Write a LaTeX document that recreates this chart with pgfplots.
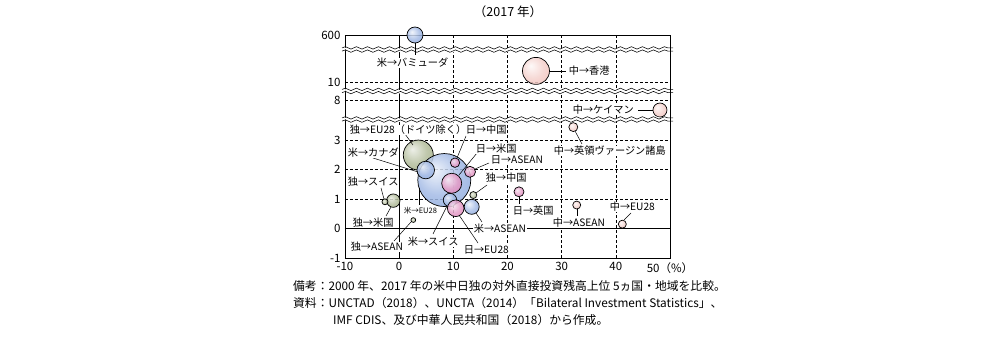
\documentclass[border=0pt]{standalone}
\usepackage{fontspec}
\setmainfont{Noto Sans CJK JP}
\usepackage{pgfplots}
\usepackage{pgfplotstable}
\pgfplotsset{compat=1.18}
\usetikzlibrary{decorations.pathmorphing}

\definecolor{cB}{RGB}{115,150,215}
\definecolor{cJ}{RGB}{215,105,170}
\definecolor{cC}{RGB}{236,172,164}
\definecolor{cG}{RGB}{140,155,105}

\pgfdeclareradialshading{shB}{\pgfpoint{-10bp}{10bp}}{color(0bp)=(cB!12!white); color(20bp)=(cB!65!white); color(50bp)=(cB)}
\pgfdeclareradialshading{shJ}{\pgfpoint{-10bp}{10bp}}{color(0bp)=(cJ!15!white); color(20bp)=(cJ!65!white); color(50bp)=(cJ)}
\pgfdeclareradialshading{shC}{\pgfpoint{-10bp}{10bp}}{color(0bp)=(cC!8!white); color(20bp)=(cC!55!white); color(50bp)=(cC)}
\pgfdeclareradialshading{shG}{\pgfpoint{-10bp}{10bp}}{color(0bp)=(cG!18!white); color(20bp)=(cG!65!white); color(50bp)=(cG)}

\pgfdeclareplotmark{bubB}{\pgfpathcircle{\pgfpointorigin}{\pgfplotmarksize}\pgfshadepath{shB}{0}\pgfusepath{stroke}}
\pgfdeclareplotmark{bubJ}{\pgfpathcircle{\pgfpointorigin}{\pgfplotmarksize}\pgfshadepath{shJ}{0}\pgfusepath{stroke}}
\pgfdeclareplotmark{bubC}{\pgfpathcircle{\pgfpointorigin}{\pgfplotmarksize}\pgfshadepath{shC}{0}\pgfusepath{stroke}}
\pgfdeclareplotmark{bubG}{\pgfpathcircle{\pgfpointorigin}{\pgfplotmarksize}\pgfshadepath{shG}{0}\pgfusepath{stroke}}

% y: mapped position on the broken axis (600 -> 6.58, 10 -> 4.98, 8 -> 4.37); r: bubble radius (pt)
\pgfplotstableread{
x y r
3.53 2.50 15
-1.08 0.95 6.7
13.69 1.14 3.5
-2.62 0.91 3
2.61 0.29 2.4
}\tabG
\pgfplotstableread{
x y r
8.33 1.65 26.5
4.90 1.99 8.8
2.92 6.58 8
13.39 0.74 7.5
9.38 0.97 6.7
}\tabB
\pgfplotstableread{
x y r
9.70 1.54 10
10.44 0.69 8.3
13.08 1.93 5.5
22.12 1.25 5
10.31 2.24 4.7
}\tabJ
\pgfplotstableread{
x y r
25.26 5.36 13.5
48.15 4.03 7
32.15 3.45 4.5
32.78 0.80 4
41.20 0.15 4
}\tabC

\pgfplotsset{bub/.style={only marks, scatter, mark=#1,
  scatter/use mapped color={draw=black},
  visualization depends on={\thisrow{r}\as\rr},
  scatter/@pre marker code/.append style={/tikz/mark size=\rr},
  mark options={line width=0.7pt, fill opacity=0.85}}}

\newcommand{\lbl}[3]{\node[anchor=west, inner sep=0.6pt, fill=white, font=\fontsize{10.2}{12}\selectfont] at (#1pt-345pt, 258pt-#2pt) {#3};}
\newcommand{\ld}[4]{\draw[line width=0.5pt] (#1pt-345pt, 258pt-#2pt) -- (#3pt-345pt, 258pt-#4pt);}
\newcommand{\brk}[1]{%
  \draw[white, line width=3.2pt, decorate, decoration={snake, amplitude=1.2pt, segment length=11pt}] (0.5pt, 258pt-#1pt) -- (324.5pt, 258pt-#1pt);
  \draw[line width=0.55pt, decorate, decoration={snake, amplitude=1.2pt, segment length=11pt}] (-3pt, 259.6pt-#1pt) -- (328pt, 259.6pt-#1pt);
  \draw[line width=0.55pt, decorate, decoration={snake, amplitude=1.2pt, segment length=11pt}] (-3pt, 256.4pt-#1pt) -- (328pt, 256.4pt-#1pt);}

\begin{document}
\begin{tikzpicture}
\useasboundingbox (-345pt,-82pt) rectangle (651pt,258pt);
\begin{axis}[
  at={(0pt,0pt)}, anchor=south west,
  scale only axis, width=325pt, height=223pt,
  xmin=-10, xmax=50, ymin=-1, ymax=6.58,
  xtick={-10,0,10,20,30,40,50},
  xticklabels={-10,0,10,20,30,40,50（\%）},
  ytick={-1,0,1,2,3,4.37,4.98,6.58},
  yticklabels={-1,0,1,2,3,8,10,600},
  major tick length=0pt,
  grid=major,
  major grid style={black, dashed, line width=0.55pt, dash pattern=on 3pt off 2pt},
  axis line style={black, line width=0.6pt},
  tick label style={font=\fontsize{11.5}{12}\selectfont},
  xticklabel style={yshift=-1pt},
  yticklabel style={xshift=-1pt},
  /pgf/number format/assume math mode=true,
  clip=false,
]
\draw[line width=0.6pt] (axis cs:0,-1) -- (axis cs:0,6.58);
\draw[line width=0.6pt] (axis cs:-10,0) -- (axis cs:50,0);
\addplot[bub=bubG] table {\tabG};
\addplot[bub=bubB] table {\tabB};
\addplot[bub=bubJ] table {\tabJ};
\addplot[bub=bubC] table {\tabC};
\end{axis}
% axis breaks
\brk{49.5}
\brk{91}
\brk{119.5}
% title
\node[font=\fontsize{12.5}{14}\selectfont] at (508pt-345pt, 258pt-12pt) {（2017 年）};
% labels and leader lines
\ld{415}{43}{415}{55}
\lbl{376}{63}{米→バミューダ}
\ld{549.5}{71}{566}{71}
\lbl{568}{71}{中→香港}
\ld{638}{110}{653}{110}
\lbl{572}{110}{中→ケイマン}
\ld{575}{131}{582}{144}
\lbl{553}{151}{中→英領ヴァージン諸島}
\ld{405}{134}{413}{145}
\lbl{349}{130}{独→EU28（ドイツ除く）}
\ld{466}{136}{457}{158}
\lbl{465}{130}{日→中国}
\ld{477}{153}{459}{175}
\lbl{475}{148.5}{日→米国}
\ld{489}{163}{475}{169}
\lbl{490}{160}{日→ASEAN}
\ld{373}{158}{418}{172}
\lbl{347}{153}{米→カナダ}
\ld{381}{188}{384}{199}
\lbl{347}{182}{独→スイス}
\ld{419}{205}{419}{188}
\node[anchor=west, inner sep=0.6pt, fill=white, font=\fontsize{7.5}{9}\selectfont] at (403pt-345pt, 258pt-211pt) {米→EU28};
\ld{386}{216}{391}{207}
\lbl{352}{223}{独→米国}
\ld{394}{241}{411}{222}
\lbl{350}{247}{独→ASEAN}
\ld{433}{234}{447}{206}
\lbl{407}{242}{米→スイス}
\ld{478}{243}{459}{215}
\lbl{463}{250}{日→EU28}
\ld{482}{222}{476}{213}
\lbl{473}{229}{米→ASEAN}
\ld{487}{185}{476}{193}
\lbl{485}{178}{独→中国}
\ld{519}{197}{519}{204}
\lbl{512}{211}{日→英国}
\ld{577}{209}{577}{216}
\lbl{552}{223}{中→ASEAN}
\ld{624}{220}{631}{213}
\lbl{609}{207}{中→EU28}
% notes
\begin{scope}[every node/.style={anchor=west, inner sep=0pt, font=\fontsize{11.8}{12}\selectfont}]
\node at (293pt-345pt, 258pt-286pt) {備考：2000 年、2017 年の米中日独の対外直接投資残高上位 5ヵ国・地域を比較。};
\node at (293pt-345pt, 258pt-303pt) {資料：UNCTAD（2018）、UNCTA（2014）「Bilateral Investment Statistics」、};
\node at (333pt-345pt, 258pt-320pt) {IMF CDIS、及び中華人民共和国（2018）から作成。};
\end{scope}
\end{tikzpicture}
\end{document}
